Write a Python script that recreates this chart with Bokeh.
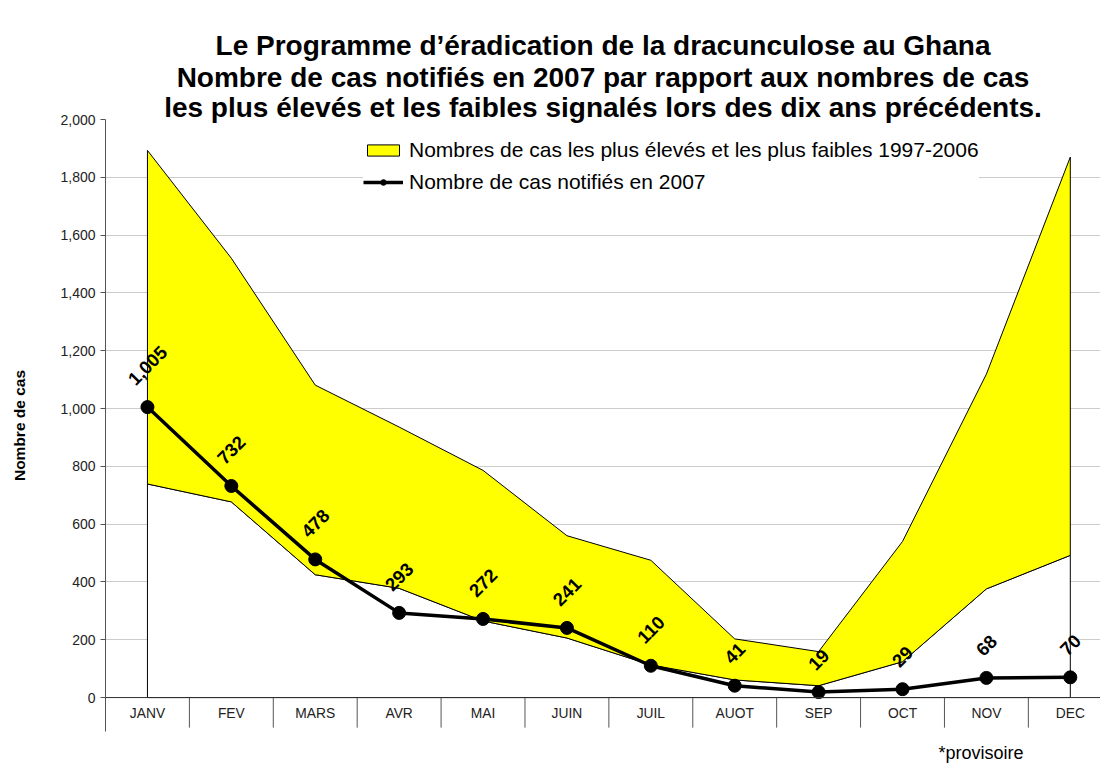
import math
from bokeh.plotting import figure
from bokeh.models import (Range1d, FixedTicker, NumeralTickFormatter, Title, Legend,
                          LegendItem, ColumnDataSource, Span)
from bokeh.core.properties import value
from bokeh.embed import file_html
from bokeh.resources import INLINE

# ---------------- data ----------------
months = ["JANV", "FEV", "MARS", "AVR", "MAI", "JUIN", "JUIL", "AUOT", "SEP", "OCT", "NOV", "DEC"]
high_1997_2006 = [1893, 1520, 1081, 936, 786, 560, 475, 203, 159, 540, 1119, 1870]
low_1997_2006 = [739, 677, 425, 378, 265, 206, 113, 61, 41, 124, 376, 492]
cases_2007 = [1005, 732, 478, 293, 272, 241, 110, 41, 19, 29, 68, 70]
y_ticks = [0, 200, 400, 600, 800, 1000, 1200, 1400, 1600, 1800, 2000]

title_lines = [
    "Le Programme d\u2019éradication de la dracunculose au Ghana",
    "Nombre de cas notifiés en 2007 par rapport aux nombres de cas",
    "les plus élevés et les faibles signalés lors des dix ans précédents.",
]
legend_band = "Nombres de cas les plus élevés et les plus faibles 1997-2006"
legend_line = "Nombre de cas notifiés en 2007"
y_label = "Nombre de cas"
note = "*provisoire"

FONT = "Liberation Sans"
x = list(range(len(months)))

p = figure(width=1100, height=772, output_backend="svg", toolbar_location=None,
           x_range=Range1d(-0.5, 11.36), y_range=Range1d(-117.4, 2000),
           min_border_left=105, min_border_right=0, min_border_top=119, min_border_bottom=40)
p.outline_line_color = None
p.background_fill_color = "white"
p.border_fill_color = "white"

# titles (added bottom line first, so that they stack upward)
for i, t in enumerate(reversed(title_lines)):
    p.add_layout(Title(text=t, align="center", text_font=FONT, text_font_size="28px",
                       text_font_style="bold", text_color="black",
                       standoff=(-6 if i == 0 else -1)), "above")

p.add_layout(Title(text=note, align="right", text_font=FONT, text_font_size="18px",
                   text_font_style="normal", text_color="black", offset=77, standoff=19), "below")

# axes
p.xaxis.visible = False
p.xgrid.visible = False
p.yaxis.ticker = FixedTicker(ticks=y_ticks)
p.yaxis.formatter = NumeralTickFormatter(format="0,0")
p.yaxis.major_label_text_font = FONT
p.yaxis.major_label_text_font_size = "14px"
p.yaxis.major_label_text_color = "#222222"
p.yaxis.major_tick_in = 0
p.yaxis.major_tick_out = 5
p.yaxis.minor_tick_out = 0
p.yaxis.minor_tick_in = 0
p.yaxis.axis_line_color = "#555555"
p.yaxis.major_tick_line_color = "#555555"
p.yaxis.axis_label = y_label
p.yaxis.axis_label_text_font = FONT
p.yaxis.axis_label_text_font_size = "15.5px"
p.yaxis.axis_label_text_font_style = "bold"
p.yaxis.axis_label_text_color = "black"
p.yaxis.axis_label_standoff = 29
p.ygrid.ticker = FixedTicker(ticks=y_ticks)
p.ygrid.grid_line_color = "#cccccc"
p.ygrid.grid_line_width = 1

# band: white lower area and yellow range
n = len(x)
zeros = [0] * n
low_patch = p.patch(x + x[::-1], low_1997_2006 + zeros[::-1], fill_color="white",
                    line_color="black", line_width=1)
band = p.patch(x + x[::-1], high_1997_2006 + low_1997_2006[::-1], fill_color="#FFFF00",
               line_color="black", line_width=1)

# category axis drawn at y=0
p.add_layout(Span(location=0, dimension="width", line_color="#333333", line_width=1))
bounds = [i + 0.5 for i in x[:-1]]
p.segment(x0=bounds, y0=[0] * len(bounds), x1=bounds, y1=[-104] * len(bounds),
          line_color="#555555", line_width=1)
p.text(x=x, y=[0] * n, text=months, text_align="center", text_baseline="middle",
       y_offset=16, text_font=value(FONT), text_font_size="13.8px", text_color="#222222")

# 2007 line
line = p.line(x, cases_2007, line_color="black", line_width=3.5)
dots = p.scatter(x, cases_2007, size=13, fill_color="black", line_color="black")

# rotated value labels
lbl = [f"{v:,}" for v in cases_2007]
fs = 18.5
def text_len(s):
    return sum(0.278 if c == "," else 0.556 for c in s) * fs
offs = [-(19 + (text_len(s) + fs * 0.95) / (2 * math.sqrt(2))) for s in lbl]
src = ColumnDataSource(dict(x=x, y=cases_2007, t=lbl, dy=offs))
p.text(x="x", y="y", text="t", source=src, angle=45, angle_units="deg",
       text_align="center", text_baseline="middle", y_offset="dy",
       text_font=value(FONT), text_font_size=f"{fs}px", text_font_style="bold",
       text_color="black")

legend = Legend(items=[LegendItem(label=legend_band, renderers=[band]),
                       LegendItem(label=legend_line, renderers=[line, dots])],
                location=(258, 537), background_fill_color="white", background_fill_alpha=1,
                border_line_color=None, label_text_font=FONT, label_text_font_size="21px",
                label_text_color="black", glyph_width=40, glyph_height=14, label_height=20,
                spacing=8, padding=4, label_standoff=6, margin=0)
p.add_layout(legend)

open("out.html", "w").write(file_html(p, INLINE))
